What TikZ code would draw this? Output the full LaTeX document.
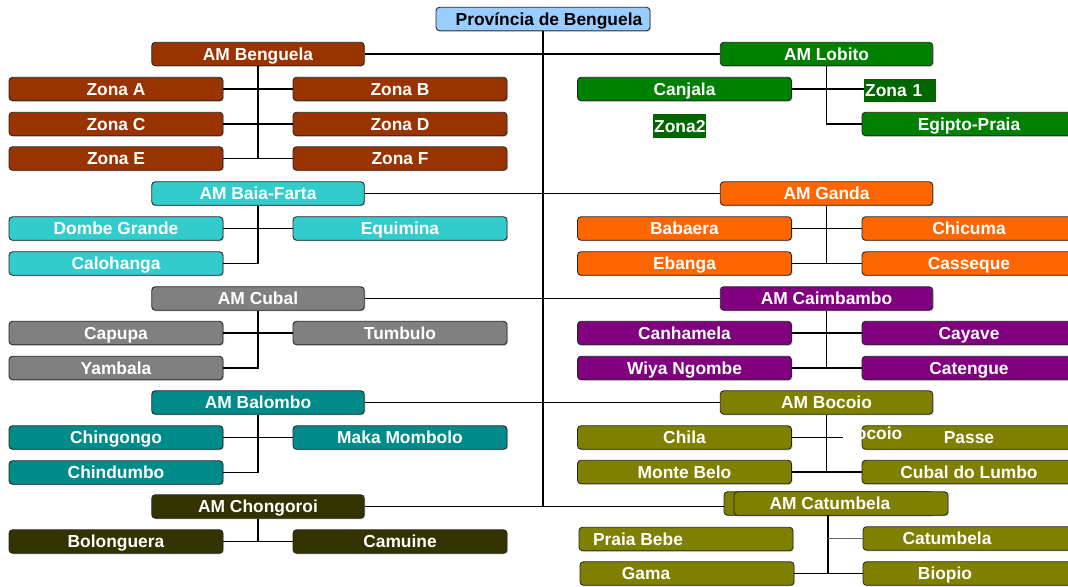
\documentclass[tikz,border=0pt]{standalone}
\usepackage{fontspec}
\setmainfont{Liberation Sans}
\usetikzlibrary{shadows}
\definecolor{cProv}{HTML}{99CCFF}
\definecolor{cBenguela}{HTML}{993300}
\definecolor{cBaia}{HTML}{33CCCC}
\definecolor{cCubal}{HTML}{808080}
\definecolor{cBalombo}{HTML}{008B8B}
\definecolor{cChongoroi}{HTML}{333300}
\definecolor{cLobito}{HTML}{008000}
\definecolor{cZona}{HTML}{006600}
\definecolor{cGanda}{HTML}{FF6600}
\definecolor{cCaimbambo}{HTML}{800080}
\definecolor{cBocoio}{HTML}{808000}
\tikzstyle{box}=[rectangle,rounded corners=2pt,draw=black!85,line width=0.5pt,text=white,font=\fontsize{9.9}{11}\selectfont\bfseries,text height=7.1pt,text depth=0pt,minimum width=4.28cm,minimum height=0.47cm,inner sep=0pt,drop shadow={shadow xshift=0.6pt,shadow yshift=-0.6pt,opacity=0.35}]
\tikzstyle{mainbox}=[box,minimum width=4.25cm]
\tikzstyle{flat}=[rectangle,fill=cZona,text=white,font=\fontsize{9.9}{11}\selectfont\bfseries,text height=7.1pt,text depth=0pt,inner sep=0.5pt,minimum height=0.47cm]
\tikzstyle{link}=[draw=black,line width=0.65pt]

\begin{document}
\begin{tikzpicture}[x=0.02cm,y=-0.02cm]
		\clip (0,0) rectangle (1068,586);
		\fill[white] (0,0) rectangle (1068,586);
		\node[box,fill=cProv,text=black,minimum width=4.28cm] (pb) at (543,19) {\hspace*{0.24cm}Província de Benguela};
		
		% left column
		\node[mainbox,fill=cBenguela] (bg) at (258,54) {AM Benguela};
		\node[box,fill=cBenguela] (za) at (116,89) {Zona A};
		\node[box,fill=cBenguela] (zb) at (400,89) {Zona B};
		\node[box,fill=cBenguela] (zc) at (116,124) {Zona C};
		\node[box,fill=cBenguela] (zd) at (400,124) {Zona D};
		\node[box,fill=cBenguela] (ze) at (116,158.5) {Zona E};
		\node[box,fill=cBenguela] (zf) at (400,158.5) {Zona F};
		
		\node[mainbox,fill=cBaia] (bf) at (258,193.5) {AM Baia-Farta};
		\node[box,fill=cBaia] (dg) at (116,228.5) {Dombe Grande};
		\node[box,fill=cBaia] (eq) at (400,228.5) {Equimina};
		\node[box,fill=cBaia] (cl) at (116,263.5) {Calohanga};
		
		\node[mainbox,fill=cCubal] (cu) at (258,298.5) {AM Cubal};
		\node[box,fill=cCubal] (cp) at (116,333) {Capupa};
		\node[box,fill=cCubal] (tu) at (400,333) {Tumbulo};
		\node[box,fill=cCubal] (ya) at (116,368) {Yambala};
		
		\node[mainbox,fill=cBalombo] (ba) at (258,402.5) {AM Balombo};
		\node[box,fill=cBalombo] (cg) at (116,437.5) {Chingongo};
		\node[box,fill=cBalombo] (mm) at (400,437.5) {Maka Mombolo};
		\node[box,fill=cBalombo] (cd) at (116,472.5) {Chindumbo};
		
		\node[mainbox,fill=cChongoroi] (ch) at (258,506.5) {AM Chongoroi};
		\node[box,fill=cChongoroi] (bo) at (116,541.5) {Bolonguera};
		\node[box,fill=cChongoroi] (cm) at (400,541.5) {Camuine};
		
		% right column
		\node[mainbox,fill=cLobito] (lo) at (826.5,54) {AM Lobito};
		\node[box,fill=cLobito] (cj) at (684.5,89) {Canjala};
		\node[flat,anchor=west,text width=1.4cm,align=left] (z1) at (864,90.5) {Zona 1};
		\node[flat,anchor=west] (z2) at (653,126) {Zona2};
		\node[box,fill=cLobito] (ep) at (969,124) {Egipto-Praia};
		
		\node[mainbox,fill=cGanda] (ga) at (826.5,193.5) {AM Ganda};
		\node[box,fill=cGanda] (bb) at (684.5,228.5) {Babaera};
		\node[box,fill=cGanda] (ci) at (969,228.5) {Chicuma};
		\node[box,fill=cGanda] (eb) at (684.5,263.5) {Ebanga};
		\node[box,fill=cGanda] (cs) at (969,263.5) {Casseque};
		
		\node[mainbox,fill=cCaimbambo] (ca) at (826.5,298.5) {AM Caimbambo};
		\node[box,fill=cCaimbambo] (cn) at (684.5,333) {Canhamela};
		\node[box,fill=cCaimbambo] (cy) at (969,333) {Cayave};
		\node[box,fill=cCaimbambo] (wn) at (684.5,368) {Wiya Ngombe};
		\node[box,fill=cCaimbambo] (ct) at (969,368) {Catengue};
		
		\node[mainbox,fill=cBocoio] (bc) at (826.5,402.5) {AM Bocoio};
		\node[box,fill=cBocoio] (cha) at (684.5,437.5) {Chila};
		\node[box,fill=cBocoio] (pa) at (969,437.5) {Passe};
		\node[box,fill=cBocoio] (mb) at (684.5,472) {Monte Belo};
		\node[box,fill=cBocoio] (cdl) at (969,472) {Cubal do Lumbo};
		\node[anchor=west,text=white,inner sep=0pt,font=\fontsize{9.9}{11}\selectfont\bfseries] (bx) at (843,433) {Bocoio};
		\coordinate (chx) at (843,437.5);
		
		\node[mainbox,fill=cBocoio,minimum width=4.2cm] (cbb) at (829,503.5) {};
		\node[mainbox,fill=cBocoio,minimum width=4.28cm] (cb) at (841,503.5) {\hspace*{-0.44cm}AM Catumbela};
		\coordinate (cbv) at (828,515);
		\node[box,fill=cBocoio] (pr) at (686,539) {\hspace*{-1.92cm}Praia Bebe};
		\node[box,fill=cBocoio] (gm) at (687,573.5) {\hspace*{-1.64cm}Gama};
		\node[box,fill=cBocoio] (cbt) at (970,538.5) {\hspace*{-0.92cm}Catumbela};
		\node[box,fill=cBocoio] (bi) at (970,573.5) {\hspace*{-1cm}Biopio};
		
		% trunk
		\draw[link,line width=0.8pt] (pb) -- (pb |- ch);
		\draw[link] (bg) -- (lo);
		\draw[link] (bf) -- (ga);
		\draw[link] (cu) -- (ca);
		\draw[link] (ba) -- (bc);
		\draw[link] (ch.east) -- (ch.east -| cbb.west);
		
		% left groups
		\draw[link] (bg) -- (bg |- ze);
		\draw[link] (za) -- (zb);
		\draw[link] (zc) -- (zd);
		\draw[link] (ze) -- (zf);
		\draw[link] (dg) -- (eq);
		\draw[link] (bf.south) |- (cl.east);
		\draw[link] (cp) -- (tu);
		\draw[link] (cu.south) |- (ya.east);
		\draw[link] (cg) -- (mm);
		\draw[link] (ba.south) |- (cd.east);
		\draw[link] (ch) -- (ch |- bo);
		\draw[link] (bo) -- (cm);
		
		% right groups
		\draw[link] (cj.east) -- (cj.east -| z1.west);
		\draw[link] (lo.south) |- (ep.west);
		\draw[link] (ga) -- (ga |- eb);
		\draw[link] (bb) -- (ci);
		\draw[link] (eb) -- (cs);
		\draw[link] (ca) -- (ca |- wn);
		\draw[link] (cn) -- (cy);
		\draw[link] (wn) -- (ct);
		\draw[link] (bc) -- (bc |- mb);
		\draw[link] (cha.east) -- (chx);
		\draw[link] (mb) -- (cdl);
		\draw[link] (cbv) -- (cbv |- bi);
		\draw[link,draw=black!60] (cbv |- cbt) -- (cbt.west);
		\draw[link] (gm) -- (bi);
\end{tikzpicture}
\end{document}
